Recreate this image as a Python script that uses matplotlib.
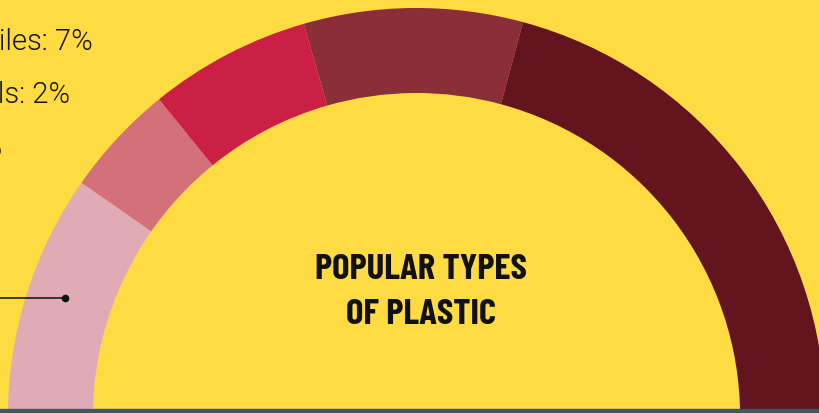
import matplotlib
matplotlib.use("Agg")
import matplotlib.pyplot as plt

# Share of each plastic type, drawn clockwise from the left end of the arc
types = ["PP", "LDPE", "PVC", "HDPE", "Other"]
shares = [19.4, 8.9, 12.8, 17.3, 41.6]
colors = ["#e1abb5", "#d4707a", "#cc1f45", "#8a2e38", "#62141f"]

# Side labels (partly outside the frame)
side_labels = ["Textiles: 7%", "Electricals: 2%", "Transportation: 6%"]

title_lines = ["POPULAR TYPES", "OF PLASTIC"]

W, H = 820, 413
BG = "#fedb42"
fig = plt.figure(figsize=(W / 100, H / 100), dpi=100, facecolor=BG)
ax = fig.add_axes([0, 0, 1, 1])
ax.set_facecolor(BG)

# Half donut: shares fill 180 degrees of the circle
total = sum(shares)
fracs = [s / total / 2 for s in shares]
cx, cy = 416.5, 416.6
r_out, ring = 408.6, 85.0
ax.pie(fracs, colors=colors, normalize=False, startangle=180,
       counterclock=True, center=(cx, cy), radius=r_out,
       wedgeprops=dict(width=ring, linewidth=0))

ax.set_xlim(0, W)
ax.set_ylim(H, 0)
ax.set_aspect("equal")
ax.axis("off")

# Bottom strip
ax.axhspan(409, H + 5, color="#45565f", zorder=5)

# Left-hand labels
label_right = [93, 70, 2]
label_base = [50, 103, 156]
for txt, xr, yb in zip(side_labels, label_right, label_base):
    ax.text(xr, yb, txt, ha="right", va="baseline", fontsize=21,
            family="Roboto", fontweight=300, color="#151515")

# Leader line to the first segment
ax.plot([-40, 65], [298, 298], color="#1a1a1a", lw=1.2, zorder=6)
ax.plot([65], [298], "o", color="#111111", ms=4.5, zorder=6)

# Centre title
for line, yb in zip(title_lines, [279, 324]):
    ax.text(421, yb, line, ha="center", va="baseline", fontsize=26.5,
            family="Barlow Condensed", fontweight=700, color="#111111")

fig.savefig("out.png", dpi=100, facecolor=fig.get_facecolor())
